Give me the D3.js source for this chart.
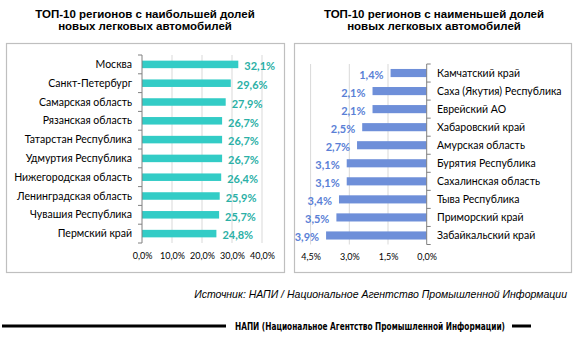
<!DOCTYPE html>
<html><head><meta charset="utf-8">
<script src="https://cdn.jsdelivr.net/npm/d3@7"></script>
<style>body{margin:0;background:#fff}svg{display:block}</style>
</head><body><svg id="c" width="580" height="337"></svg>
<script>
const leftTitle = ["ТОП-10 регионов с наибольшей долей", "новых легковых автомобилей"];
const rightTitle = ["ТОП-10 регионов с наименьшей долей", "новых легковых автомобилей"];
const leftCategories = ["Москва","Санкт-Петербург","Самарская область","Рязанская область","Татарстан Республика","Удмуртия Республика","Нижегородская область","Ленинградская область","Чувашия Республика","Пермский край"];
const leftValues = [32.1,29.6,27.9,26.7,26.7,26.7,26.4,25.9,25.7,24.8];
const leftTicks = [0,10,20,30,40];
const rightCategories = ["Камчатский край","Саха (Якутия) Республика","Еврейский АО","Хабаровский край","Амурская область","Бурятия Республика","Сахалинская область","Тыва Республика","Приморский край","Забайкальский край"];
const rightValues = [1.4,2.1,2.1,2.5,2.7,3.1,3.1,3.4,3.5,3.9];
const rightTicks = [4.5,3.0,1.5,0.0];
const sourceText = "Источник: НАПИ / Национальное Агентство Промышленной Информации";
const footerText = "НАПИ (Национальное Агентство Промышленной Информации)";

const svg = d3.select("#c");
const fmt = v => d3.format(".1f")(v).replace(".", ",") + "%";
const FONT = "Lato, 'Open Sans', sans-serif";

// Titles
function title(lines, cx){
  const t = svg.append("text").attr("text-anchor","middle")
    .attr("font-family","'Liberation Sans', Arial, sans-serif").attr("font-weight","bold")
    .attr("font-size","11.5px").attr("fill","#000");
  lines.forEach((l,i)=>t.append("tspan").attr("x",cx).attr("y",18+i*11.5).text(l));
}
title(leftTitle, 145);
title(rightTitle, 434);

// Boxes
svg.append("rect").attr("x",6.5).attr("y",43.5).attr("width",278).attr("height",229).attr("fill","none").attr("stroke","#bfbfbf").attr("stroke-width",1.2);
svg.append("rect").attr("x",294.5).attr("y",43.5).attr("width",277).attr("height",229).attr("fill","none").attr("stroke","#bfbfbf").attr("stroke-width",1.2);

// Left chart
{
  const x = d3.scaleLinear().domain([0,40]).range([142,262]);
  const y = d3.scaleBand().domain(leftCategories).range([55,243]).paddingInner(0.6).paddingOuter(0.3);
  const g = svg.append("g");
  g.selectAll(".grid").data(leftTicks.slice(1)).join("line")
    .attr("x1",d=>x(d)).attr("x2",d=>x(d)).attr("y1",55).attr("y2",243).attr("stroke","#d9d9d9").attr("stroke-width",1);
  g.selectAll(".bar").data(leftValues).join("rect")
    .attr("x",x(0)).attr("y",(d,i)=>y(leftCategories[i])).attr("width",d=>x(d)-x(0)).attr("height",y.bandwidth())
    .attr("fill","#33ccc6");
  g.append("line").attr("x1",x(0)).attr("x2",x(0)).attr("y1",55).attr("y2",243).attr("stroke","#808080");
  const ys = d3.range(11).map(i=>55+i*(188/10));
  g.selectAll(".tk").data(ys).join("line").attr("x1",x(0)-4).attr("x2",x(0)).attr("y1",d=>d).attr("y2",d=>d).attr("stroke","#808080");
  g.selectAll(".cat").data(leftCategories).join("text")
    .attr("x",132).attr("y",d=>y(d)+y.bandwidth()/2).attr("dy","0.35em").attr("text-anchor","end")
    .attr("font-family",FONT).attr("font-size","10.5px").attr("fill","#000").text(d=>d);
  g.selectAll(".val").data(leftValues).join("text")
    .attr("x",d=>x(d)+6).attr("y",(d,i)=>y(leftCategories[i])+y.bandwidth()/2+2).attr("dy","0.35em")
    .attr("font-family",FONT).attr("font-weight","bold").attr("font-size","11px").attr("fill","#2bb0a6").text(fmt);
  const xa = d3.axisBottom(x).tickValues(leftTicks).tickSize(0).tickFormat(fmt);
  const ax = g.append("g").attr("transform","translate(0,250)").call(xa);
  ax.select(".domain").remove();
  ax.selectAll("text").attr("font-family",FONT).attr("font-size","9px").attr("fill","#000");
}

// Right chart
{
  const x = d3.scaleLinear().domain([0,4.5]).range([426.7,310.6]);
  const y = d3.scaleBand().domain(rightCategories).range([64,244.5]).paddingInner(0.55).paddingOuter(0.275);
  const g = svg.append("g");
  g.selectAll(".grid").data(rightTicks.filter(d=>d>0)).join("line")
    .attr("x1",d=>x(d)).attr("x2",d=>x(d)).attr("y1",64).attr("y2",244.5).attr("stroke","#d9d9d9");
  g.selectAll(".bar").data(rightValues).join("rect")
    .attr("x",d=>x(d)).attr("y",(d,i)=>y(rightCategories[i])).attr("width",d=>x(0)-x(d)).attr("height",y.bandwidth())
    .attr("fill","#6e8fd9");
  g.append("line").attr("x1",x(0)).attr("x2",x(0)).attr("y1",64).attr("y2",244.5).attr("stroke","#808080");
  const ys = d3.range(11).map(i=>64+i*(180.5/10));
  g.selectAll(".tk").data(ys).join("line").attr("x1",x(0)).attr("x2",x(0)+4).attr("y1",d=>d).attr("y2",d=>d).attr("stroke","#808080");
  g.selectAll(".cat").data(rightCategories).join("text")
    .attr("x",437).attr("y",d=>y(d)+y.bandwidth()/2).attr("dy","0.35em").attr("text-anchor","start")
    .attr("font-family",FONT).attr("font-size","10.5px").attr("fill","#000").text(d=>d);
  g.selectAll(".val").data(rightValues).join("text")
    .attr("x",d=>x(d)-7).attr("y",(d,i)=>y(rightCategories[i])+y.bandwidth()/2+2).attr("dy","0.35em").attr("text-anchor","end")
    .attr("font-family",FONT).attr("font-weight","bold").attr("font-size","11px").attr("fill","#5a7fd6").text(fmt);
  const xa = d3.axisBottom(x).tickValues(rightTicks).tickSize(0).tickFormat(fmt);
  const ax = g.append("g").attr("transform","translate(0,251)").call(xa);
  ax.select(".domain").remove();
  ax.selectAll("text").attr("font-family",FONT).attr("font-size","9px").attr("fill","#000");
}

// Source
svg.append("text").attr("x",567).attr("y",298).attr("text-anchor","end")
  .attr("font-family","'Liberation Sans', Arial, sans-serif").attr("font-style","italic").attr("font-size","10.5px")
  .attr("fill","#000").text(sourceText);

// Footer
svg.append("line").attr("x1",2).attr("x2",226).attr("y1",326).attr("y2",326).attr("stroke","#000").attr("stroke-width",3);
svg.append("line").attr("x1",512).attr("x2",531).attr("y1",326).attr("y2",326).attr("stroke","#000").attr("stroke-width",3);
svg.append("text").attr("x",370).attr("y",329.5).attr("text-anchor","middle")
  .attr("font-family","'Liberation Sans Narrow', 'DejaVu Sans Condensed', sans-serif").attr("font-weight","bold").attr("font-size","10.5px")
  .attr("fill","#000").attr("textLength",270).attr("lengthAdjust","spacingAndGlyphs").text(footerText);
</script></body></html>
